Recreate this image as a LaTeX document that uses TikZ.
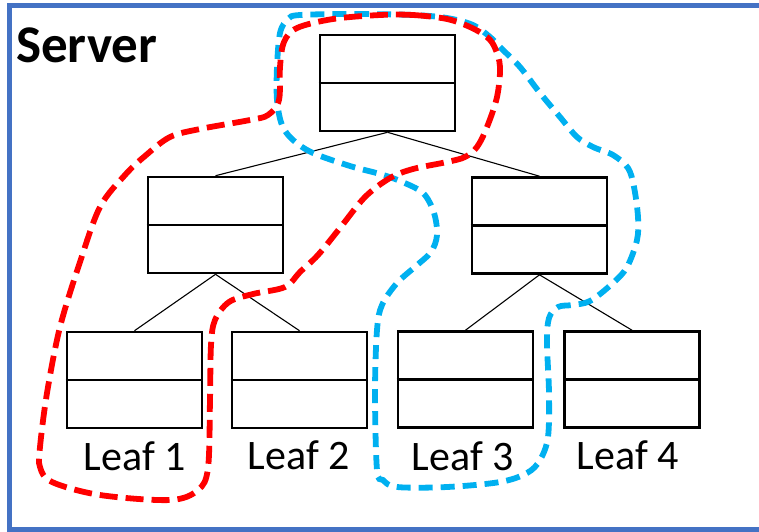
\documentclass[tikz,border=0pt]{standalone}
\usepackage{fontspec}
\setmainfont{Carlito}
\definecolor{frameblue}{RGB}{68,114,196}
\definecolor{setred}{RGB}{255,0,0}
\definecolor{setblue}{RGB}{0,176,240}
\begin{document}
\begin{tikzpicture}[x=1pt,y=-1pt,
  tnode/.style={draw=black,line width=2.6pt,fill=white,minimum width=135pt,minimum height=96pt,inner sep=0pt},
  edge/.style={draw=black,line width=1.1pt},
  leaflabel/.style={anchor=base,inner sep=0pt,font=\fontsize{42}{50}\selectfont},
  redset/.style={draw=setred,line width=5.8pt,dash pattern=on 18pt off 8pt},
  blueset/.style={draw=setblue,line width=5.8pt,dash pattern=on 14pt off 8pt}]
\useasboundingbox (0,0) rectangle (759,531);
\clip (0,0) rectangle (759,531);

% server frame (open on the right)
\draw[frameblue,line width=4.6pt] (790,5.5) -- (9.5,5.5) -- (9.5,529.5) -- (790,529.5);
\node[anchor=base west,inner sep=0pt,font=\bfseries\fontsize{53}{60}\selectfont] (server) at (16,62) {Server};

% tree nodes
\node[tnode] (root) at (387.5,83) {};
\node[tnode] (ml) at (215.5,225) {};
\node[tnode] (mr) at (539.5,225.5) {};
\node[tnode] (l1) at (134.5,380) {};
\node[tnode] (l2) at (299.5,380) {};
\node[tnode] (l3) at (465.5,379.5) {};
\node[tnode] (l4) at (632,379.5) {};
\foreach \n in {root,ml,mr,l1,l2,l3,l4}
  \draw[line width=2.6pt] (\n.west) -- (\n.east);

% tree edges
\draw[edge] (root.south) -- (ml.north);
\draw[edge] (root.south) -- (mr.north);
\draw[edge] (ml.south) -- (l1.north);
\draw[edge] (ml.south) -- (l2.north);
\draw[edge] (mr.south) -- (l3.north);
\draw[edge] (mr.south) -- (l4.north);

% leaf labels
\node[leaflabel] (t1) at (135,470) {Leaf 1};
\node[leaflabel] (t2) at (299,469) {Leaf 2};
\node[leaflabel] (t3) at (463,470) {Leaf 3};
\node[leaflabel] (t4) at (628,469) {Leaf 4};

% blue set: root, right child, leaf 3
\draw[blueset] plot[smooth cycle,tension=0.55] coordinates {
  (300,15) (355,14) (413,15) (447,18) (473,25) (490,37) (503,50) (520,67)
  (540,93) (560,117) (577,137) (593,147) (613,155) (628,168) (634,187)
  (638,217) (637,240) (627,267) (613,283) (590,301) (572,305) (558,307)
  (549,318) (547,343) (549,393) (548,437) (540,460) (527,473) (500,482)
  (447,487) (397,487) (383,480) (377,470) (375,393) (377,330) (382,305)
  (397,283) (416,266) (431,252) (437,235) (434,213) (423,193) (400,181)
  (380,174) (350,166) (313,153) (293,140) (282,125) (277,100) (277,67)
  (280,33) (288,19)};

% red set: root, left child, leaf 1
\draw[redset] plot[smooth cycle,tension=0.55] coordinates {
  (380,15) (413,15) (447,19) (470,27) (487,37) (495,48) (500,67) (497,97)
  (487,127) (477,147) (465,157) (447,162) (413,169) (390,178) (365,197)
  (340,228) (318,255) (300,272) (285,287) (253,294) (229,302) (215,320)
  (211,345) (210,400) (208,468) (198,490) (170,500) (100,495) (52,482)
  (40,467) (40,447) (47,393) (60,327) (80,262) (100,207) (125,175) (145,156)
  (170,137) (200,129) (250,120) (268,115) (279,100) (280,67) (284,42)
  (297,28) (333,19)};
\end{tikzpicture}
\end{document}
